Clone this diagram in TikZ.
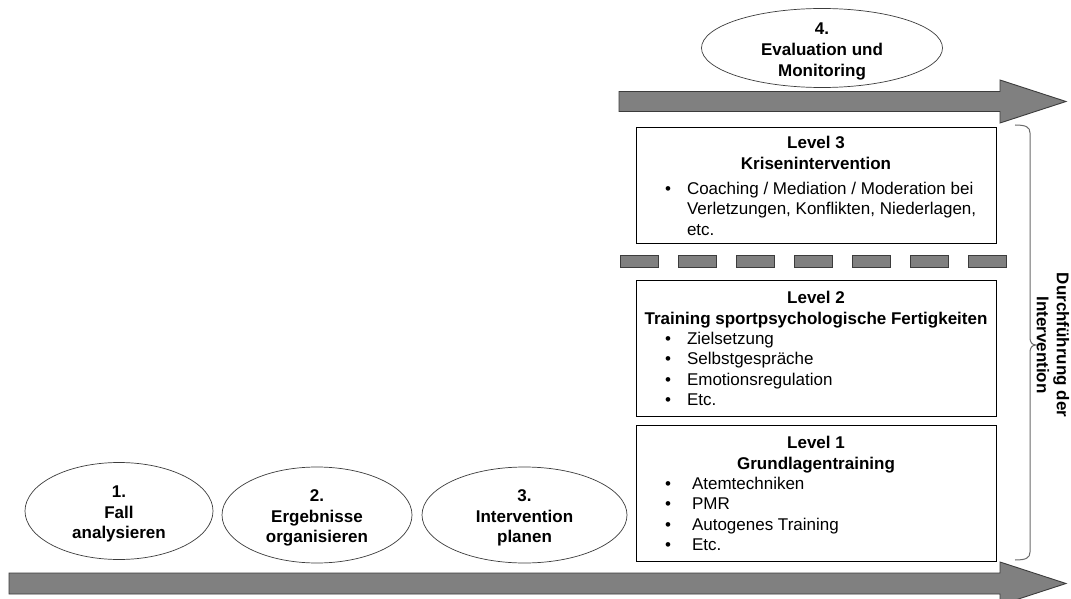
\documentclass[tikz,border=0pt]{standalone}
\usepackage{fontspec}
\setmainfont{Liberation Sans}
\usetikzlibrary{shapes.geometric}
\definecolor{arrowgray}{HTML}{808080}
\definecolor{edgegray}{HTML}{3C3C3C}
\definecolor{bracegray}{HTML}{6A6A6A}
\begin{document}
\begin{tikzpicture}[x=1pt,y=-1pt,
  every node/.style={inner sep=0pt, outer sep=0pt},
  txt/.style={font=\fontsize{17}{20}\selectfont, anchor=base west},
  bul/.style={font=\fontsize{17}{20}\selectfont, anchor=base},
  btxt/.style={font=\fontsize{17}{20}\selectfont\bfseries, anchor=base},
  phase/.style={ellipse, draw=edgegray, line width=0.7pt, fill=white},
  phasetext/.style={align=center, font=\fontsize{17}{20.5}\selectfont\bfseries},
  levelbox/.style={draw=black, line width=0.8pt, fill=white, anchor=north west, minimum width=360pt},
  bigarrow/.style={fill=arrowgray, draw=edgegray, line width=0.9pt, line join=miter},
  dashbar/.style={fill=arrowgray, draw=edgegray, line width=0.7pt}]
\fill[white] (0,0) rectangle (1071,599);
\useasboundingbox (0,0) rectangle (1071,599);
\clip (0,0) rectangle (1071,599);

% top arrow
\draw[bigarrow] (619,91.5) -- (1000,91.5) -- (1000,80) -- (1066,101.5) -- (1000,123) -- (1000,111.5) -- (619,111.5) -- cycle;
% bottom arrow
\draw[bigarrow] (9,573) -- (1000,573) -- (1000,562) -- (1066,583.5) -- (1000,605) -- (1000,594) -- (9,594) -- cycle;

% phase ellipses
\node[phase, minimum width=241pt, minimum height=79pt] (p4) at (822,48) {};
\node[phasetext, font=\fontsize{17}{21}\selectfont\bfseries, yshift=-3pt] (p4t) at (p4) {4.\\Evaluation und\\Monitoring};
\node[phase, minimum width=188pt, minimum height=97pt] (p1) at (119,511) {};
\node[phasetext, yshift=-3pt] (p1t) at (p1) {1.\\Fall\\analysieren};
\node[phase, minimum width=190pt, minimum height=96pt] (p2) at (317,515) {};
\node[phasetext, yshift=-3pt] (p2t) at (p2) {2.\\Ergebnisse\\organisieren};
\node[phase, minimum width=205pt, minimum height=96pt] (p3) at (524.5,515) {};
\node[phasetext, yshift=-3pt] (p3t) at (p3) {3.\\Intervention\\planen};

% level boxes
\node[levelbox, minimum height=116pt] (lv3) at (636,127) {};
\node[levelbox, minimum height=136pt] (lv2) at (636,280) {};
\node[levelbox, minimum height=136pt] (lv1) at (636,425) {};

% dashed separator
\foreach \i in {0,...,6} {
  \draw[dashbar] (620+58*\i,255) rectangle (658+58*\i,267);
}

% Level 3 text
\node[btxt] (l3a) at (816,149) {Level 3};
\node[btxt] (l3b) at (816,169) {Krisenintervention};
\node[bul] (l3c) at (668,194) {•};
\node[txt] (l3d) at (687,194) {Coaching / Mediation / Moderation bei};
\node[txt] (l3e) at (687,214) {Verletzungen, Konflikten, Niederlagen,};
\node[txt] (l3f) at (687,235) {etc.};

% Level 2 text
\node[btxt] (l2a) at (816,303) {Level 2};
\node[btxt] (l2b) at (816,324) {Training sportpsychologische Fertigkeiten};
\node[bul] at (668,344) {•};
\node[txt] (l2c) at (687,344) {Zielsetzung};
\node[bul] at (668,364) {•};
\node[txt] (l2d) at (687,364) {Selbstgespräche};
\node[bul] at (668,385) {•};
\node[txt] (l2e) at (687,385) {Emotionsregulation};
\node[bul] at (668,405) {•};
\node[txt] (l2f) at (687,405) {Etc.};

% Level 1 text
\node[btxt] (l1a) at (816,448) {Level 1};
\node[btxt] (l1b) at (816,469) {Grundlagentraining};
\node[bul] at (668,489) {•};
\node[txt] (l1c) at (692,489) {Atemtechniken};
\node[bul] at (668,509) {•};
\node[txt] (l1d) at (692,509) {PMR};
\node[bul] at (668,530) {•};
\node[txt] (l1e) at (692,530) {Autogenes Training};
\node[bul] at (668,550) {•};
\node[txt] (l1f) at (692,550) {Etc.};

% brace
\draw[bracegray, line width=1pt] (1015,125) .. controls (1026,125) and (1030,127) .. (1030,133)
  -- (1030,338) .. controls (1030,342) and (1032,345) .. (1036,345)
  .. controls (1032,345) and (1030,348) .. (1030,352)
  -- (1030,552) .. controls (1030,558) and (1026,560) .. (1015,560);
\node[rotate=-90, align=center, font=\fontsize{17}{20}\selectfont\bfseries] (brt) at (1053,345) {Durchführung der\\Intervention};
\end{tikzpicture}
\end{document}
